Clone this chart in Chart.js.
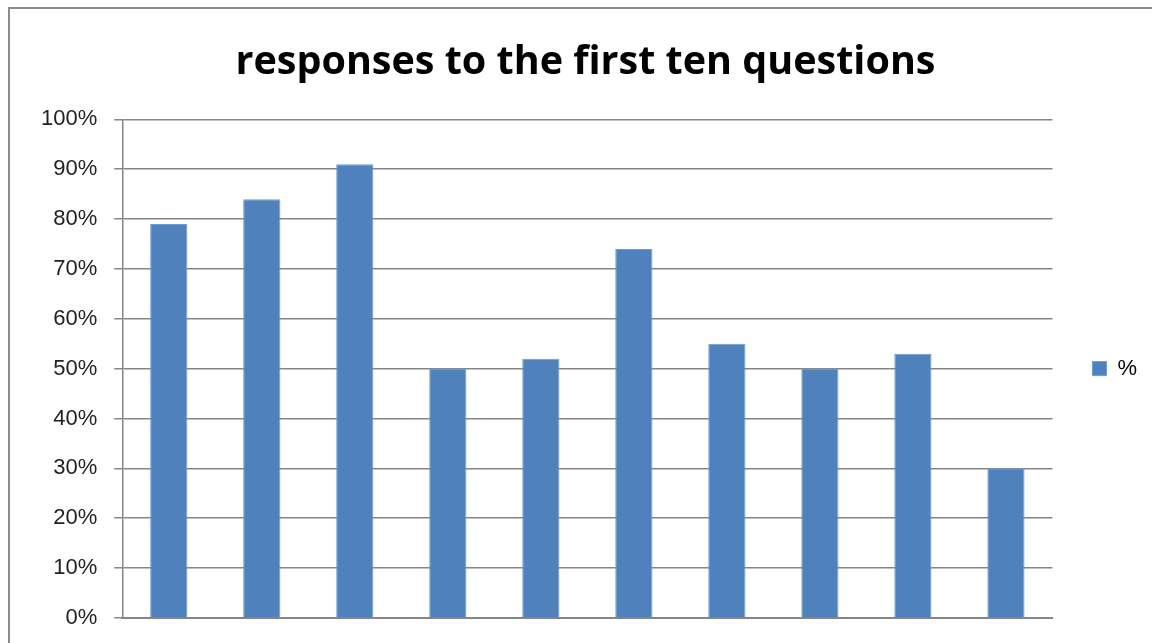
<!DOCTYPE html>
<html>
<head>
<meta charset="utf-8">
<script src="https://cdn.jsdelivr.net/npm/chart.js@4"></script>
<style>
  html, body { margin: 0; padding: 0; background: #fff; overflow: hidden; }
  #frame { position: absolute; left: 8px; top: 7px; width: 1300px; height: 800px; border: 2px solid #8c8c8c; }
  #wrap { position: absolute; left: 0; top: 0; width: 1152px; height: 648px; }
</style>
</head>
<body>
<div id="frame"></div>
<div id="wrap"><canvas id="chart"></canvas></div>
<script>
//Data
var questions = ['1', '2', '3', '4', '5', '6', '7', '8', '9', '10'];
var percents = [79, 84, 91, 50, 52, 74, 55, 50, 53, 30];
var yTicks = [0, 10, 20, 30, 40, 50, 60, 70, 80, 90, 100];

var ctx = document.getElementById('chart').getContext('2d');
var chart = new Chart(ctx, {
    type: 'bar',
    data: {
        labels: questions,
        datasets: [{
            label: '%',
            backgroundColor: 'rgb(79, 129, 189)',
            borderColor: 'rgb(110, 155, 210)',
            borderWidth: 1,
            data: percents,
            categoryPercentage: 1,
            barPercentage: 0.4
        }]
    },
    options: {
        responsive: true,
        maintainAspectRatio: false,
        animation: false,
        layout: { padding: { left: 24, right: 5, top: 39, bottom: 7 } },
        plugins: {
            title: {
                display: true,
                text: 'responses to the first ten questions',
                color: '#000',
                font: { family: 'Open Sans', size: 39.5, weight: 'bold' },
                padding: { top: 0, bottom: 33 }
            },
            legend: {
                position: 'right',
                fullSize: false,
                labels: {
                    color: '#000',
                    font: { family: 'Liberation Sans', size: 22 },
                    boxWidth: 14,
                    boxHeight: 14,
                    padding: 40
                }
            },
            tooltip: { enabled: false }
        },
        scales: {
            x: {
                grid: { display: false },
                ticks: { display: false },
                border: { color: '#868686', width: 2 }
            },
            y: {
                min: 0,
                max: 100,
                afterBuildTicks: function (axis) {
                    axis.ticks = yTicks.map(function (v) { return { value: v }; });
                },
                ticks: {
                    color: '#222',
                    font: { family: 'Liberation Sans', size: 22 },
                    padding: 17,
                    callback: function (v) { return v + '%'; }
                },
                grid: { color: '#868686', lineWidth: 1.5, tickLength: 8 },
                border: { color: '#868686', width: 1.5 }
            }
        }
    }
});
</script>
</body>
</html>
